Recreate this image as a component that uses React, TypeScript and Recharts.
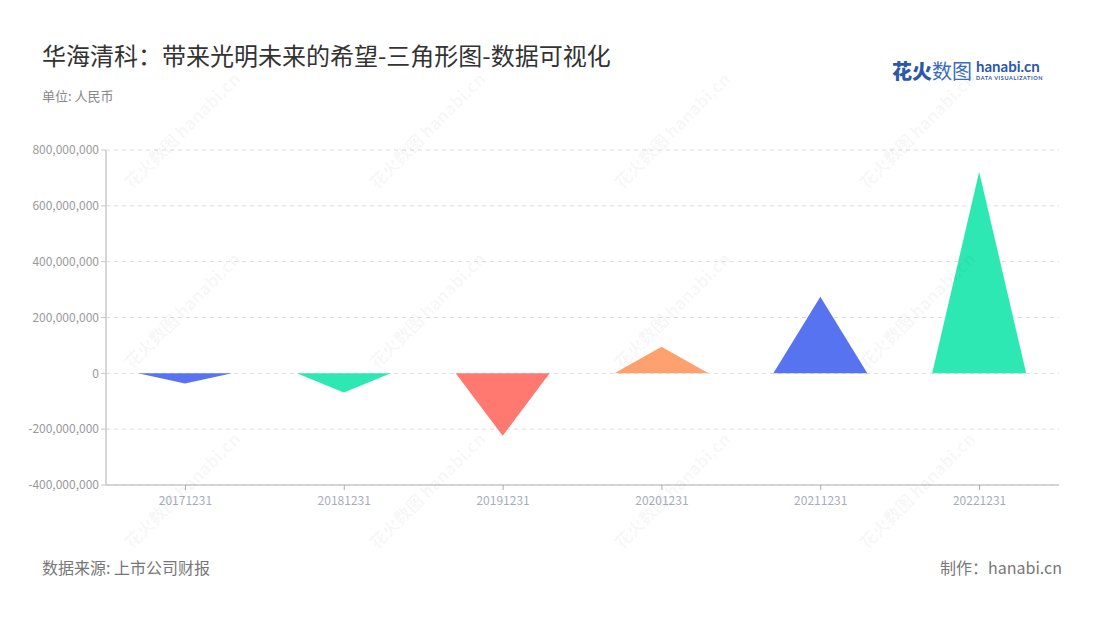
import React from "react";
import { BarChart, Bar, XAxis, YAxis, CartesianGrid, Cell } from "recharts";

const categories = ["20171231", "20181231", "20191231", "20201231", "20211231", "20221231"];
const values = [-36000000, -69000000, -224000000, 95000000, 274000000, 722000000];
const palette = ["#5873EF", "#2DE8B3", "#FF7971", "#FFA06F"];
const yTicks = [-400000000, -200000000, 0, 200000000, 400000000, 600000000, 800000000];

const data = categories.map((c, i) => ({ name: c, value: values[i] }));

const FONT = '"Noto Sans CJK SC", "Noto Sans", sans-serif';

const Triangle = (props: any) => {
  const { x, y, width, height, fill, value } = props;
  const v = Array.isArray(value) ? value[1] - value[0] : value;
  const top = Math.min(y, y + height);
  const bottom = Math.max(y, y + height);
  const cx = x + width / 2;
  let d: string;
  if ((props.payload?.value ?? v) >= 0) {
    d = `M${x},${bottom} L${cx},${top} L${x + width},${bottom} Z`;
  } else {
    d = `M${x},${top} L${cx},${bottom} L${x + width},${top} Z`;
  }
  return <path d={d} fill={fill} />;
};

const fmt = (v: number) => v.toLocaleString("en-US");

const wmCols = [132, 377, 622, 867];
const wmRows = [190, 370, 550];

const Watermarks = () => (
  <svg width={1100} height={620} style={{ position: "absolute", left: 0, top: 0, pointerEvents: "none" }}>
    {wmRows.map((ry) =>
      wmCols.map((cx) => (
        <text
          key={`${cx}-${ry}`}
          x={cx}
          y={ry}
          transform={`rotate(-45 ${cx} ${ry})`}
          fontFamily={FONT}
          fontSize={17}
          fontWeight={700}
          fill="#000"
          fillOpacity={0.045}
        >
          花火数图 hanabi.cn
        </text>
      ))
    )}
  </svg>
);

export default function App() {
  return (
    <div style={{ position: "absolute", left: 0, top: 0, width: 1100, height: 620, background: "#fff", fontFamily: FONT, overflow: "hidden" }}>
      <div style={{ position: "absolute", left: 42, top: 37, fontSize: 24, color: "#333", whiteSpace: "nowrap" }}>
        华海清科：带来光明未来的希望-三角形图-数据可视化
      </div>
      <div style={{ position: "absolute", left: 42, top: 86, fontSize: 13, color: "#888" }}>单位: 人民币</div>
      <div style={{ position: "absolute", left: 892, top: 58, whiteSpace: "nowrap", display: "flex", alignItems: "flex-start" }}>
        <span style={{ fontSize: 20, color: "#2b58a8", fontWeight: 900, lineHeight: "26px" }}>花火</span>
        <span style={{ fontSize: 20, color: "#3a6cc0", fontWeight: 400, lineHeight: "26px" }}>数图</span>
        <div style={{ marginLeft: 4, display: "flex", flexDirection: "column" }}>
          <span style={{ fontSize: 15, color: "#2b58a8", fontWeight: 700, lineHeight: "17px", fontFamily: "Lato, sans-serif" }}>hanabi.cn</span>
          <span style={{ fontSize: 5.5, color: "#2b58a8", fontWeight: 700, letterSpacing: 0.6, lineHeight: "7px", fontFamily: "Lato, sans-serif" }}>DATA VISUALIZATION</span>
        </div>
      </div>
      <div style={{ position: "absolute", left: 42, top: 555, fontSize: 16, color: "#777" }}>数据来源: 上市公司财报</div>
      <div style={{ position: "absolute", right: 38, top: 555, fontSize: 16, color: "#777" }}>制作：hanabi.cn</div>
      <div style={{ position: "absolute", left: 0, top: 0 }}>
        <BarChart width={1100} height={620} data={data} margin={{ top: 150, right: 41, left: 36, bottom: 105 }} barSize={94}>
          <CartesianGrid vertical={false} stroke="#dcdcdc" strokeDasharray="4 4" />
          <XAxis
            dataKey="name"
            height={30}
            axisLine={{ stroke: "#c8c8c8", strokeWidth: 1.5 }}
            tickLine={{ stroke: "#aaa" }}
            tickSize={5}
            tick={{ fill: "#a8adbb", fontSize: 12, fontFamily: FONT, dy: 4 }}
          />
          <YAxis
            width={70}
            domain={[-400000000, 800000000]}
            ticks={yTicks}
            tickFormatter={fmt}
            interval={0}
            axisLine={{ stroke: "#c8c8c8", strokeWidth: 1.5 }}
            tickLine={{ stroke: "#c8c8c8" }}
            tickSize={5}
            tick={{ fill: "#999", fontSize: 12, fontFamily: FONT }}
          />
          <Bar dataKey="value" isAnimationActive={false} shape={<Triangle />}>
            {data.map((d, i) => (
              <Cell key={d.name} fill={palette[i % palette.length]} />
            ))}
          </Bar>
        </BarChart>
      </div>
      <Watermarks />
    </div>
  );
}
